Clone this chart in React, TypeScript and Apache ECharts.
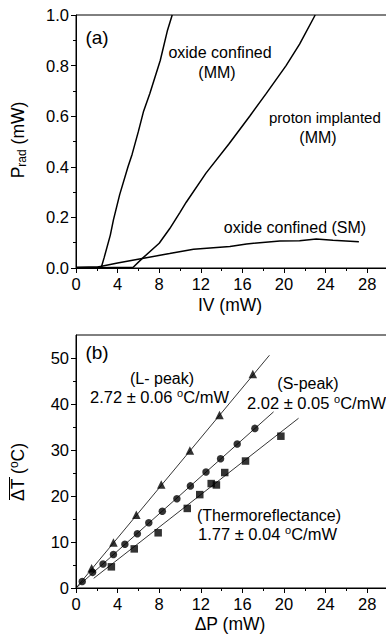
import React, { useEffect, useRef } from "react";
import * as echarts from "echarts";

const FONT = "'Liberation Sans', Arial, Helvetica, sans-serif";

// ---------- Panel (a): P_rad vs IV ----------
const oxideConfinedMM: number[][] = [
  [0, 0.003], [2.45, 0.005], [2.7, 0.04], [3.3, 0.13], [3.6, 0.19], [4.2, 0.29], [5.0, 0.4],
  [5.4, 0.45], [6.0, 0.54], [6.5, 0.62], [7.1, 0.69], [8.1, 0.82], [8.8, 0.94], [9.25, 1.0],
];
const protonImplantedMM: number[][] = [
  [0, 0], [5.5, 0.003], [6.3, 0.035], [8.0, 0.098], [9.0, 0.155], [10.0, 0.22], [10.6, 0.26],
  [12.5, 0.375], [14.7, 0.49], [16.7, 0.6], [18.3, 0.69], [20.2, 0.8], [21.5, 0.885], [23.0, 1.0],
];
const oxideConfinedSM: number[][] = [
  [2.1, 0.004], [4.0, 0.02], [6.1, 0.036], [9.0, 0.057], [11.3, 0.074], [14.8, 0.085],
  [16.4, 0.095], [19.6, 0.107], [21.5, 0.108], [23.1, 0.115], [24.7, 0.11], [27.2, 0.104],
];

// ---------- Panel (b): mean dT vs dP ----------
const lPeak: number[][] = [
  [1.5, 4.3], [3.6, 9.9], [5.8, 15.9], [8.2, 22.5], [10.95, 29.9], [13.8, 37.6], [17.0, 46.5],
];
const sPeak: number[][] = [
  [0.6, 1.4], [1.6, 3.4], [2.6, 5.2], [3.6, 7.3], [4.7, 9.5], [5.9, 11.8], [7.0, 14.2],
  [8.3, 16.7], [9.7, 19.4], [11.0, 22.2], [12.5, 25.2], [13.9, 28.1], [15.5, 31.3], [17.2, 34.7],
];
const thermo: number[][] = [
  [3.4, 4.6], [5.6, 8.5], [7.9, 12.0], [10.7, 17.3], [11.9, 20.3], [13.0, 22.7],
  [13.5, 22.4], [14.3, 25.1], [16.3, 27.6], [19.7, 33.0],
];
const fitLPeak: number[][] = [[0, 0], [18.6, 50.6]];
const fitSPeak: number[][] = [[0, 0], [19.0, 38.3]];
const fitThermo: number[][] = [[1.7, 2.1], [21.4, 36.9]];

// ---------- Ticks ----------
const xMajor = [0, 4, 8, 12, 16, 20, 24, 28];
const xMinor = [2, 6, 10, 14, 18, 22, 26];
const yMajorA = [0, 0.2, 0.4, 0.6, 0.8, 1.0];
const yMinorA = [0.1, 0.3, 0.5, 0.7, 0.9];
const yMajorB = [0, 10, 20, 30, 40, 50];
const yMinorB = [5, 15, 25, 35, 45];

const BLACK = "#000";

function mainAxis(gridIndex: number, position: string, min: number, max: number, ticks: number[], fmt?: (v: number) => string) {
  return {
    type: "value",
    gridIndex,
    position,
    min,
    max,
    axisLine: { show: true, onZero: false, lineStyle: { color: BLACK, width: 1 } },
    axisTick: { show: true, inside: false, length: 5, customValues: ticks, lineStyle: { color: BLACK, width: 1 } },
    axisLabel: {
      show: true,
      customValues: ticks,
      margin: 7,
      fontSize: 16.5,
      fontFamily: FONT,
      color: BLACK,
      formatter: fmt,
    },
    splitLine: { show: false },
  };
}

function minorAxis(gridIndex: number, position: string, min: number, max: number, ticks: number[]) {
  return {
    type: "value",
    gridIndex,
    position,
    min,
    max,
    axisLine: { show: false },
    axisTick: { show: true, inside: false, length: 3, customValues: ticks, lineStyle: { color: BLACK, width: 1 } },
    axisLabel: { show: false },
    splitLine: { show: false },
  };
}

function txt(text: string, x: number, y: number, opts: any = {}) {
  return {
    type: "text",
    x,
    y,
    rotation: opts.rotation || 0,
    z: 10,
    style: {
      text,
      fill: BLACK,
      fontSize: opts.fontSize || 16,
      fontFamily: FONT,
      align: opts.align || "center",
      verticalAlign: "middle",
      textAlign: opts.align || "center",
      textVerticalAlign: "middle",
      rich: opts.rich,
    },
  };
}

const supRich = {
  n: { fontSize: 16.5, fontFamily: FONT, color: BLACK, lineHeight: 20 },
  s: { fontSize: 11, fontFamily: FONT, color: BLACK, lineHeight: 11, verticalAlign: "top" },
};
const titleSupRich = {
  n: { fontSize: 17.5, fontFamily: FONT, color: BLACK, lineHeight: 20 },
  s: { fontSize: 12, fontFamily: FONT, color: BLACK, lineHeight: 12, verticalAlign: "top" },
};
const titleSubRich = {
  n: { fontSize: 17.5, fontFamily: FONT, color: BLACK, lineHeight: 20 },
  s: { fontSize: 12, fontFamily: FONT, color: BLACK, lineHeight: 12, verticalAlign: "bottom" },
};

export default function App() {
  const ref = useRef<HTMLDivElement>(null);
  useEffect(() => {
    if (!ref.current) return;
    const chart = echarts.init(ref.current, null, { renderer: "svg" });
    const lineSeries = (data: number[][], width: number, gi: number) => ({
      type: "line",
      data,
      xAxisIndex: gi * 2,
      yAxisIndex: gi * 2,
      showSymbol: false,
      symbol: "none",
      lineStyle: { color: BLACK, width },
      silent: true,
    });
    const scatter = (data: number[][], symbol: string, size: number) => ({
      type: "scatter",
      data,
      xAxisIndex: 2,
      yAxisIndex: 2,
      symbol,
      symbolSize: size,
      itemStyle: { color: BLACK },
      silent: true,
    });
    chart.setOption({
      animation: false,
      backgroundColor: "#fff",
      textStyle: { fontFamily: FONT },
      grid: [
        { left: 76, top: 15, width: 312, height: 253, show: true, borderColor: BLACK, borderWidth: 1, backgroundColor: "transparent" },
        { left: 76, top: 335, width: 312, height: 253, show: true, borderColor: BLACK, borderWidth: 1, backgroundColor: "transparent" },
      ],
      xAxis: [
        mainAxis(0, "bottom", 0, 30, xMajor),
        minorAxis(0, "bottom", 0, 30, xMinor),
        mainAxis(1, "bottom", 0, 30, xMajor),
        minorAxis(1, "bottom", 0, 30, xMinor),
      ],
      yAxis: [
        mainAxis(0, "left", 0, 1, yMajorA, (v: number) => v.toFixed(1)),
        minorAxis(0, "left", 0, 1, yMinorA),
        mainAxis(1, "left", 0, 55, yMajorB),
        minorAxis(1, "left", 0, 55, yMinorB),
      ],
      series: [
        lineSeries(oxideConfinedMM, 1.5, 0),
        lineSeries(protonImplantedMM, 1.5, 0),
        lineSeries(oxideConfinedSM, 1.5, 0),
        lineSeries(fitLPeak, 0.8, 1),
        lineSeries(fitSPeak, 0.8, 1),
        lineSeries(fitThermo, 0.8, 1),
        scatter(lPeak, "triangle", 8.5),
        scatter(sPeak, "circle", 7.5),
        scatter(thermo, "rect", 7.5),
      ],
      graphic: [
        txt("(a)", 97, 37, { fontSize: 19 }),
        txt("(b)", 97, 352, { fontSize: 19 }),
        txt("oxide confined", 220, 52),
        txt("(MM)", 217, 72),
        txt("proton implanted", 269, 117, { align: "left", fontSize: 15 }),
        txt("(MM)", 318, 137),
        txt("oxide confined (SM)", 295, 227),
        txt("(L- peak)", 162, 378),
        txt("{n|2.72 ± 0.06 }{s|o}{n|C/mW}", 90, 397, { align: "left", rich: supRich }),
        txt("(S-peak)", 308, 383),
        txt("{n|2.02 ± 0.05 }{s|o}{n|C/mW}", 247, 403, { align: "left", rich: supRich }),
        txt("(Thermoreflectance)", 197, 515, { align: "left" }),
        txt("{n|1.77 ± 0.04 }{s|o}{n|C/mW}", 198, 534, { align: "left", rich: supRich }),
        txt("IV (mW)", 230, 305, { fontSize: 17.5 }),
        txt("ΔP (mW)", 230, 624, { fontSize: 17.5 }),
        txt("{n|P}{s|rad}{n| (mW)}", 18, 140, { rotation: Math.PI / 2, rich: titleSubRich }),
        txt("{n|ΔT (}{s|o}{n|C)}", 18, 472, { rotation: Math.PI / 2, rich: titleSupRich }),
        {
          type: "line",
          z: 10,
          shape: { x1: 9.5, y1: 477, x2: 9.5, y2: 500 },
          style: { stroke: BLACK, lineWidth: 1 },
        },
      ],
    });
    return () => chart.dispose();
  }, []);
  return (
    <div style={{ position: "fixed", left: 0, top: 0, width: 386, height: 641, overflow: "hidden", background: "#fff" }}>
      <div ref={ref} style={{ width: 400, height: 641 }} />
    </div>
  );
}
